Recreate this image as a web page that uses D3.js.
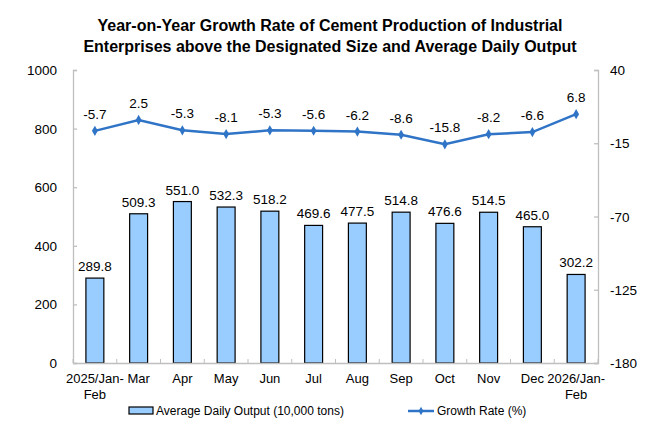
<!DOCTYPE html>
<html><head><meta charset="utf-8">
<script src="https://cdn.jsdelivr.net/npm/d3@7"></script>
<style>body{margin:0;background:#fff}text{font-family:Arial,"Liberation Sans",sans-serif}</style>
</head><body>
<svg id="c" width="660" height="440"></svg>
<script>
const categories = ["2025/Jan-Feb","Mar","Apr","May","Jun","Jul","Aug","Sep","Oct","Nov","Dec","2026/Jan-Feb"];
const output = [289.8,509.3,551.0,532.3,518.2,469.6,477.5,514.8,476.6,514.5,465.0,302.2];
const growth = [-5.7,2.5,-5.3,-8.1,-5.3,-5.6,-6.2,-8.6,-15.8,-8.2,-6.6,6.8];
const leftTicks = [0,200,400,600,800,1000];
const rightTicks = [40,-15,-70,-125,-180];
const titleLines = ["Year-on-Year Growth Rate of Cement Production of Industrial","Enterprises above the Designated Size and Average Daily Output"];
const legendLabels = ["Average Daily Output (10,000 tons)","Growth Rate (%)"];

const svg = d3.select("#c");
const L=73,R=598,T=70,B=363;
const x = d3.scaleBand().domain(categories).range([L,R]).paddingInner(0.59).paddingOuter(0.295);
const band = d3.scaleBand().domain(categories).range([L,R]);
const yL = d3.scaleLinear().domain([0,1000]).range([B,T]);
const yR = d3.scaleLinear().domain([-180,40]).range([B,T]);
const axisColor="#bfbfbf";

svg.selectAll(".title").data(titleLines).enter().append("text")
 .attr("x",330).attr("y",(d,i)=>31+i*20.5).attr("text-anchor","middle")
 .attr("font-size",16).attr("font-weight","bold").text(d=>d);

// bars
svg.selectAll(".bar").data(output).enter().append("rect")
 .attr("x",(d,i)=>x(categories[i])).attr("width",x.bandwidth())
 .attr("y",d=>yL(d)).attr("height",d=>B-yL(d))
 .attr("fill","#99ccff").attr("stroke","#000").attr("stroke-width",1.2);
svg.selectAll(".blab").data(output).enter().append("text")
 .attr("x",(d,i)=>x(categories[i])+x.bandwidth()/2).attr("y",d=>yL(d)-7)
 .attr("text-anchor","middle").attr("font-size",13.5).text(d=>d.toFixed(1));

// axes
const gL = svg.append("g").attr("transform",`translate(${L},0)`)
 .call(d3.axisRight(yL).tickValues(leftTicks).tickSize(4).tickFormat(d3.format("d")));
gL.selectAll("text").remove();
svg.selectAll(".ltl").data(leftTicks).enter().append("text")
 .attr("x",L-16).attr("y",d=>yL(d)+5).attr("text-anchor","end").attr("font-size",13.5).text(d=>d);
const gR = svg.append("g").attr("transform",`translate(${R},0)`)
 .call(d3.axisLeft(yR).tickValues(rightTicks).tickSize(4));
gR.selectAll("text").remove();
svg.selectAll(".rtl").data(rightTicks).enter().append("text")
 .attr("x",R+12).attr("y",d=>yR(d)+5).attr("text-anchor","start").attr("font-size",13.5).text(d=>d);
const gB = svg.append("g").attr("transform",`translate(0,${B})`)
 .call(d3.axisTop(band).tickSize(0).tickFormat(""));
const seps = categories.map(c=>band(c)).concat([R]);
svg.selectAll(".sep").data(seps).enter().append("line")
 .attr("x1",d=>d).attr("x2",d=>d).attr("y1",B).attr("y2",B-4).attr("stroke",axisColor);
[gL,gR,gB].forEach(g=>{g.selectAll("path,line").attr("stroke",axisColor).attr("stroke-width",1.3);});

categories.forEach((c,i)=>{
  const cx = band(c)+band.bandwidth()/2;
  const parts = c.endsWith("Jan-Feb") ? [c.replace("Feb",""),"Feb"] : [c];
  parts.forEach((p,j)=>{
    svg.append("text").attr("x",cx).attr("y",B+20+j*16).attr("text-anchor","middle")
     .attr("font-size",13).text(p);
  });
});

// line
const lc="#2f74c6";
const line = d3.line().x((d,i)=>band(categories[i])+band.bandwidth()/2).y(d=>yR(d));
svg.append("path").datum(growth).attr("d",line).attr("fill","none").attr("stroke",lc).attr("stroke-width",2.5);
const diamond = d3.symbol().type(d3.symbolDiamond).size(30);
svg.selectAll(".pt").data(growth).enter().append("path")
 .attr("d",diamond).attr("transform",(d,i)=>`translate(${band(categories[i])+band.bandwidth()/2},${yR(d)})`).attr("fill",lc);
svg.selectAll(".glab").data(growth).enter().append("text")
 .attr("x",(d,i)=>band(categories[i])+band.bandwidth()/2).attr("y",d=>yR(d)-12)
 .attr("text-anchor","middle").attr("font-size",13.5).text(d=>d.toFixed(1));

// legend
svg.append("rect").attr("x",129).attr("y",407).attr("width",24).attr("height",7)
 .attr("fill","#99ccff").attr("stroke","#000").attr("stroke-width",1.2);
svg.append("text").attr("x",156).attr("y",415).attr("font-size",12).text(legendLabels[0]);
svg.append("line").attr("x1",408).attr("x2",434).attr("y1",411).attr("y2",411).attr("stroke",lc).attr("stroke-width",2.5);
svg.append("path").attr("d",d3.symbol().type(d3.symbolDiamond).size(20)).attr("transform","translate(421,411)").attr("fill",lc);
svg.append("text").attr("x",437).attr("y",415).attr("font-size",12).text(legendLabels[1]);
</script>
</body></html>
